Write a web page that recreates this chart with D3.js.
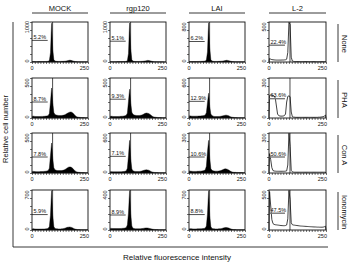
<!DOCTYPE html>
<html><head><meta charset="utf-8">
<script src="https://cdn.jsdelivr.net/npm/d3@7"></script>
<style>
body{margin:0;background:#fff}
svg{display:block}
text{font-family:Arial,"Liberation Sans",sans-serif;fill:#111}
</style>
</head><body>
<svg id="c" width="348" height="262"></svg>
<script>
// ---------- data ----------
const treatments = ["MOCK", "rgp120", "LAI", "L-2"];
const stimuli = ["None", "PHA", "Con A", "Ionomycin"];
const xTickLabels = ["0", "250"];
const xDomain = [0, 250];
const binWidth = 5;
const yMax = [
  [1000, 1000, 800, 500],
  [500, 500, 600, 300],
  [500, 600, 300, 300],
  [700, 400, 700, 500]
];
const percents = [
  ["5.2%", "5.1%", "6.2%", "22.4%"],
  ["8.7%", "9.3%", "12.9%", "63.6%"],
  ["7.8%", "7.1%", "10.6%", "50.6%"],
  ["5.9%", "8.9%", "8.8%", "47.5%"]
];
// sub-G1 gate: upper channel and drawn level (counts)
const gateEnd = 70;
const g1Marker = 92;
const gateLevels = [
  [540, 520, 410, 210],
  [200, 235, 250, 145],
  [200, 250, 120, 120],
  [270, 150, 270, 210]
];

// histograms, 50 channels of 5 units (0-250)
const mockNone  = [12,10,10,9,9,10,10,11,11,12,12,13,14,15,18,35,230,970,310,60,25,18,16,15,15,15,16,16,18,20,24,30,38,44,42,36,26,18,12,10,8,7,6,6,5,5,4,4,4,3];
const rgpNone   = [10,9,9,9,9,9,10,10,11,11,12,12,13,14,17,32,210,975,330,55,22,16,14,14,14,14,15,15,16,18,22,28,34,40,38,32,24,16,12,9,8,7,6,5,5,4,4,4,3,3];
const laiNone   = [10,9,9,9,10,10,10,11,11,12,12,13,14,16,20,40,200,785,280,50,20,14,12,12,12,12,13,14,15,17,20,25,30,34,32,27,20,14,10,8,7,6,5,5,4,4,4,3,3,3];
const l2None    = [45,35,30,28,26,25,24,24,24,24,24,25,25,26,28,35,120,495,470,60,12,8,6,5,5,5,5,5,5,5,5,5,5,5,5,5,5,5,5,5,4,4,4,4,4,4,4,4,4,4];

const mockPHA   = [25,22,20,18,18,18,18,19,20,20,21,22,24,26,32,55,200,375,190,70,45,38,34,32,31,31,32,33,36,42,50,58,66,72,75,72,62,48,30,18,13,10,8,7,6,5,5,4,4,3];
const rgpPHA    = [24,21,20,18,18,18,18,19,20,21,22,23,25,28,34,60,210,360,185,72,46,38,34,32,31,31,32,34,38,44,52,58,62,60,56,48,36,24,16,12,10,8,7,6,5,5,4,4,4,3];
const laiPHA    = [34,30,28,27,27,27,28,28,29,30,31,32,34,38,46,80,230,372,170,60,36,28,24,22,22,22,23,24,26,30,34,38,42,42,38,32,24,16,12,10,8,7,6,5,5,5,4,4,4,3];
const l2PHA     = [170,172,170,168,165,150,90,30,18,15,14,14,15,18,30,120,162,166,160,45,10,7,6,5,5,5,5,5,5,5,5,5,5,5,5,5,5,5,5,5,5,5,5,6,6,7,8,10,14,22];

const mockConA  = [22,20,18,17,17,17,17,18,18,19,20,21,23,26,32,60,220,375,180,65,40,34,31,30,30,30,31,33,37,44,54,64,72,76,75,68,56,40,26,16,12,9,8,7,6,5,5,4,4,3];
const rgpConA   = [22,20,18,17,17,17,17,18,19,19,20,21,23,26,34,70,260,490,210,60,32,26,24,23,23,23,24,26,30,36,42,46,48,46,42,34,24,16,12,9,8,7,6,5,5,4,4,4,3,3];
const laiConA   = [16,14,13,12,12,12,12,13,13,14,14,15,16,18,24,50,160,245,110,34,20,16,15,14,14,14,15,16,18,22,26,30,31,30,27,22,16,11,8,6,5,5,4,4,3,3,3,3,2,2];
const l2ConA    = [145,100,40,18,15,14,13,13,13,13,13,13,13,13,14,16,60,298,200,20,9,7,6,6,6,6,6,6,6,6,6,6,6,6,6,6,6,6,6,6,6,6,6,6,6,6,6,6,6,6];

const mockIono  = [22,20,18,17,16,16,16,17,17,18,18,19,20,24,30,60,260,690,260,60,28,22,20,19,19,19,20,22,26,32,40,46,50,52,50,44,34,24,16,12,9,8,7,6,5,5,4,4,4,4];
const rgpIono   = [18,16,15,14,14,14,14,14,15,15,16,17,18,20,26,50,170,395,160,40,18,14,12,12,12,12,12,13,14,16,18,20,21,20,18,15,12,9,7,6,5,4,4,3,3,3,3,2,2,2];
const laiIono   = [24,22,20,19,19,19,19,20,20,21,22,23,25,28,36,70,280,690,250,60,28,22,20,19,19,19,20,22,24,28,34,40,44,44,40,34,26,18,12,9,8,7,6,5,5,4,4,4,3,3];
const l2Iono    = [480,300,130,80,70,66,64,62,60,58,56,55,54,54,56,62,140,495,380,90,66,62,60,58,56,54,52,50,49,48,47,46,45,44,43,42,41,40,39,38,38,37,36,36,35,35,35,36,40,48];

const histograms = [
  [mockNone, rgpNone, laiNone, l2None],
  [mockPHA, rgpPHA, laiPHA, l2PHA],
  [mockConA, rgpConA, laiConA, l2ConA],
  [mockIono, rgpIono, laiIono, l2Iono]
];

// ---------- layout ----------
const svg = d3.select("#c");
const colLeft = [32, 110, 189, 269];
const colWidth = [56, 56, 56, 57];
const rowTop = [22, 78, 133, 190];
const rowHeight = 40;

// outer frame
svg.append("line").attr("x1", 13).attr("x2", 13).attr("y1", 22).attr("y2", 247)
  .attr("stroke", "#222").attr("stroke-width", 0.9);
svg.append("line").attr("x1", 13).attr("x2", 328).attr("y1", 247).attr("y2", 247)
  .attr("stroke", "#222").attr("stroke-width", 0.9);

svg.append("text").attr("transform", "translate(8,129) rotate(-90)")
  .attr("text-anchor", "middle").attr("font-size", 7.5).text("Relative cell number");
svg.append("text").attr("x", 177).attr("y", 260)
  .attr("text-anchor", "middle").attr("font-size", 8).text("Relative fluorescence intensity");

// column headers
treatments.forEach((t, c) => {
  const x0 = colLeft[c], w = colWidth[c];
  svg.append("text").attr("x", x0 + w / 2).attr("y", 10.5).attr("text-anchor", "middle")
    .attr("font-size", 7.5).text(t);
  svg.append("line").attr("x1", x0).attr("x2", x0 + w).attr("y1", 13).attr("y2", 13)
    .attr("stroke", "#222").attr("stroke-width", 0.9);
});

// row labels
stimuli.forEach((s, r) => {
  const cy = rowTop[r] + rowHeight / 2 + 2;
  svg.append("line").attr("x1", 338).attr("x2", 338)
    .attr("y1", rowTop[r] + 2).attr("y2", rowTop[r] + rowHeight)
    .attr("stroke", "#222").attr("stroke-width", 0.9);
  svg.append("text").attr("transform", `translate(342,${cy}) rotate(90)`)
    .attr("text-anchor", "middle").attr("font-size", 7.5).text(s);
});

// panels
const mids = d3.range(50).map(i => i * binWidth + binWidth / 2);
stimuli.forEach((s, r) => {
  treatments.forEach((t, c) => {
    const x0 = colLeft[c], w = colWidth[c], y0 = rowTop[r], h = rowHeight;
    const x = d3.scaleLinear().domain(xDomain).range([x0, x0 + w]);
    const y = d3.scaleLinear().domain([0, yMax[r][c]]).range([y0 + h, y0]);
    const g = svg.append("g");
    const vals = histograms[r][c];
    const pts = [[0, 0]].concat(mids.map((m, i) => [m, vals[i]])).concat([[250, 0]]);
    if (c < 3) {
      g.append("path").datum(pts)
        .attr("d", d3.area().x(d => x(d[0])).y0(y(0)).y1(d => y(d[1])))
        .attr("fill", "#000").attr("stroke", "#000").attr("stroke-width", 0.4);
    } else {
      g.append("path").datum(pts)
        .attr("d", d3.line().x(d => x(d[0])).y(d => y(d[1])))
        .attr("fill", "none").attr("stroke", "#111").attr("stroke-width", 0.8);
    }
    // G1 marker
    g.append("line").attr("x1", x(g1Marker)).attr("x2", x(g1Marker))
      .attr("y1", y0).attr("y2", y0 + h).attr("stroke", "#000").attr("stroke-width", 0.7);
    // sub-G1 gate
    const gl = y(gateLevels[r][c]);
    g.append("line").attr("x1", x(0)).attr("x2", x(gateEnd)).attr("y1", gl).attr("y2", gl)
      .attr("stroke", c < 3 ? "#222" : "#777").attr("stroke-width", c < 3 ? 0.8 : 1.4);
    g.append("text").attr("x", x(0) + 1.5).attr("y", gl - 1.5)
      .attr("font-size", 5.5).text(percents[r][c]);
    // frame
    g.append("rect").attr("x", x0).attr("y", y0).attr("width", w).attr("height", h)
      .attr("fill", "none").attr("stroke", "#111").attr("stroke-width", 0.9);
    // x axis
    const xa = g.append("g").attr("transform", `translate(0,${y0 + h})`)
      .call(d3.axisBottom(x).tickValues(d3.range(0, 251, 12.5)).tickSize(2).tickFormat(""));
    xa.select(".domain").remove();
    xa.selectAll("line").attr("stroke", "#111").attr("stroke-width", 0.6);
    g.append("text").attr("x", x(0)).attr("y", y0 + h + 7.5).attr("text-anchor", "middle")
      .attr("font-size", 5.5).text(xTickLabels[0]);
    g.append("text").attr("x", x(250) + 1).attr("y", y0 + h + 7.5).attr("text-anchor", "end")
      .attr("font-size", 5.5).text(xTickLabels[1]);
    // y axis
    const ya = g.append("g").attr("transform", `translate(${x0},0)`)
      .call(d3.axisLeft(y).tickValues(d3.range(0, 1.0001, 0.2).map(f => f * yMax[r][c])).tickSize(2).tickFormat(""));
    ya.select(".domain").remove();
    ya.selectAll("line").attr("stroke", "#111").attr("stroke-width", 0.6);
    g.append("text").attr("transform", `translate(${x0 - 3},${y0 + 5}) rotate(-90)`)
      .attr("text-anchor", "middle").attr("font-size", 5.5).text(yMax[r][c]);
    g.append("text").attr("transform", `translate(${x0 - 3},${y0 + h - 1}) rotate(-90)`)
      .attr("text-anchor", "middle").attr("font-size", 5.5).text("0");
  });
});
</script>
</body></html>
